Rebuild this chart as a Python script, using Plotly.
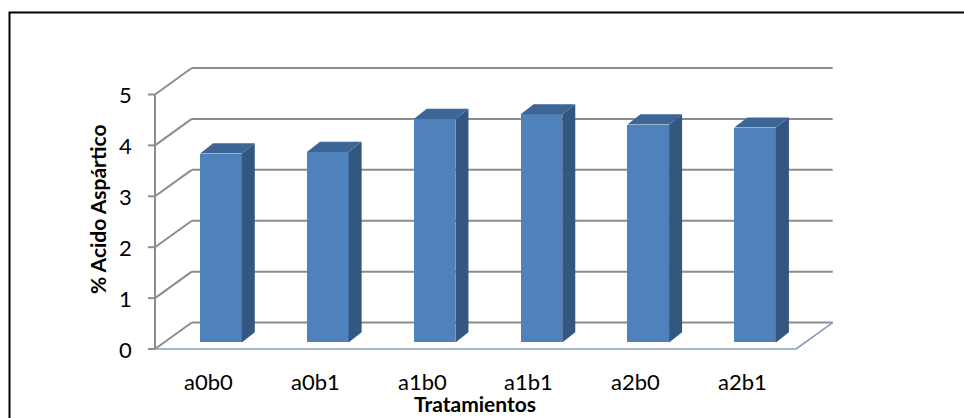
import plotly.graph_objects as go

# Data
categories = ["a0b0", "a0b1", "a1b0", "a1b1", "a2b0", "a2b1"]
values = [3.71, 3.74, 4.39, 4.48, 4.28, 4.22]
y_ticks = [0, 1, 2, 3, 4, 5]

# Oblique projection of the 3-D box (data units)
WALL_DX, WALL_DY = 0.344, 0.52      # full depth of the floor / side wall
BAR_OFF_X, BAR_OFF_Y = 0.117, 0.13  # front face of the columns sits inside the box
BAR_W = 0.39
BAR_DX, BAR_DY = 0.122, 0.20        # column depth

FRONT = "#4F81BD"
SIDE = "#34577F"
TOP = "#3D6696"
GRID = "#8C8C8C"
FLOOR = "#8A9CB6"
FONT = "Lato"

n = len(categories)

# Plot-area geometry
W, H = 964, 418
ML, MR, MT, MB = 140, 114, 44, 59
PX_X, PX_Y = 106.83, 50.9
x0_px, y0_px = 155, 349
x_min = -(x0_px - ML) / PX_X
x_max = x_min + (W - ML - MR) / PX_X
y_min = -((H - MB) - y0_px) / PX_Y
y_max = y_min + (H - MT - MB) / PX_Y

shapes = []


def seg(xa, ya, xb, yb, color, width):
    shapes.append(dict(type="line", xref="x", yref="y", x0=xa, y0=ya, x1=xb, y1=yb,
                       line=dict(color=color, width=width), layer="below"))


# back wall gridlines and side wall diagonals
for v in y_ticks:
    seg(WALL_DX, v + WALL_DY, n + WALL_DX, v + WALL_DY, GRID, 2)
    seg(0, v, WALL_DX, v + WALL_DY, GRID, 2)
    seg(-0.065, v, 0, v, GRID, 2)
# value axis
seg(0, 0, 0, y_ticks[-1], GRID, 2)
# floor edges
seg(0, 0, n, 0, FLOOR, 1.6)
seg(n, 0, n + WALL_DX, WALL_DY, FLOOR, 1.6)

# chart frame
pw, ph = W - ML - MR, H - MT - MB
shapes.append(dict(type="rect", xref="paper", yref="paper",
                   x0=(9.5 - ML) / pw, x1=(W + 20 - ML) / pw,
                   y0=-(MB + 20) / ph, y1=1 + (MT - 12.5) / ph,
                   line=dict(color="#000000", width=2), fillcolor="rgba(0,0,0,0)",
                   layer="below"))

fig = go.Figure()

# front faces of the columns
xs = [i + 0.5 + BAR_OFF_X for i in range(n)]
fig.add_trace(go.Bar(x=xs, y=values, base=BAR_OFF_Y, width=BAR_W,
                     marker=dict(color=FRONT, line=dict(width=0)),
                     hoverinfo="skip", showlegend=False))

# side and top faces
side_x, side_y, top_x, top_y = [], [], [], []
for xc, v in zip(xs, values):
    xl, xr = xc - BAR_W / 2, xc + BAR_W / 2
    b, t = BAR_OFF_Y, BAR_OFF_Y + v
    side_x += [xr, xr + BAR_DX, xr + BAR_DX, xr, xr, None]
    side_y += [b, b + BAR_DY, t + BAR_DY, t, b, None]
    top_x += [xl, xr, xr + BAR_DX, xl + BAR_DX, xl, None]
    top_y += [t, t, t + BAR_DY, t + BAR_DY, t, None]

fig.add_trace(go.Scatter(x=side_x, y=side_y, mode="lines", fill="toself",
                         fillcolor=SIDE, line=dict(width=0, color=SIDE),
                         hoverinfo="skip", showlegend=False))
fig.add_trace(go.Scatter(x=top_x, y=top_y, mode="lines", fill="toself",
                         fillcolor=TOP, line=dict(width=0, color=TOP),
                         hoverinfo="skip", showlegend=False))

annotations = []
for v in y_ticks:
    annotations.append(dict(x=0, y=v, xref="x", yref="y", text=str(v), showarrow=False,
                            xanchor="right", yanchor="middle", xshift=-21,
                            font=dict(family=FONT, size=22, color="#000000")))
for i, c in enumerate(categories):
    annotations.append(dict(x=i + 0.5, y=0, xref="x", yref="y", text=c, showarrow=False,
                            xanchor="center", yanchor="middle", yshift=-32,
                            font=dict(family=FONT, size=22, color="#000000")))
annotations.append(dict(x=n / 2, y=0, xref="x", yref="y", text="<b>Tratamientos</b>",
                        showarrow=False, xanchor="center", yanchor="middle", yshift=-54,
                        font=dict(family=FONT, size=21, color="#000000")))
annotations.append(dict(x=0, y=2.75, xref="x", yref="y", text="<b>% Acido Aspártico</b>",
                        showarrow=False, xanchor="center", yanchor="middle", xshift=-58,
                        textangle=-90, font=dict(family=FONT, size=21, color="#000000")))

fig.update_layout(
    width=W, height=H,
    margin=dict(l=ML, r=MR, t=MT, b=MB),
    paper_bgcolor="white", plot_bgcolor="white",
    xaxis=dict(range=[x_min, x_max], visible=False, fixedrange=True),
    yaxis=dict(range=[y_min, y_max], visible=False, fixedrange=True),
    shapes=shapes, annotations=annotations,
    bargap=0, showlegend=False,
)

fig.write_html("out.html")
